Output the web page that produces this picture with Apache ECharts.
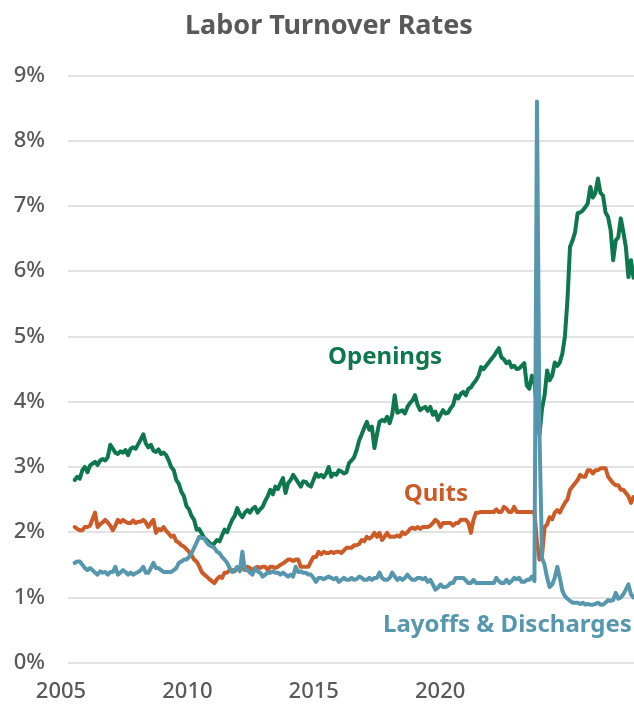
<!DOCTYPE html>
<html>
<head>
<meta charset="utf-8">
<script src="https://cdn.jsdelivr.net/npm/echarts@6/dist/echarts.min.js"></script>
<style>
html,body{margin:0;padding:0;background:#fff;}
#chart{width:634px;height:713px;}
</style>
</head>
<body>
<div id="chart"></div>
<script>
// Monthly rates (%), Jan 2005 .. May 2023
const startYear = 2005;
const openings = [
  2.80,2.85,2.82,2.95,3.00,2.92,3.02,3.05,3.08,3.03,3.10,3.12,
  3.10,3.15,3.34,3.28,3.22,3.20,3.24,3.22,3.26,3.18,3.28,3.30,
  3.28,3.35,3.42,3.50,3.36,3.30,3.34,3.25,3.23,3.27,3.20,3.22,
  3.18,3.10,3.00,2.95,2.80,2.74,2.62,2.55,2.40,2.35,2.25,2.19,
  2.04,2.05,1.98,1.91,1.88,1.84,1.80,1.83,1.88,1.86,1.95,2.04,
  2.00,2.10,2.19,2.25,2.37,2.28,2.23,2.30,2.34,2.30,2.36,2.39,
  2.30,2.35,2.39,2.48,2.55,2.65,2.58,2.70,2.66,2.75,2.83,2.60,
  2.75,2.80,2.88,2.82,2.76,2.70,2.78,2.77,2.72,2.70,2.80,2.90,
  2.85,2.88,2.84,2.90,3.00,2.85,2.90,2.88,2.95,2.93,2.90,2.92,
  3.06,3.10,3.15,3.26,3.41,3.50,3.60,3.69,3.57,3.62,3.29,3.50,
  3.69,3.72,3.70,3.77,3.67,3.80,4.10,3.83,3.85,3.87,3.82,3.92,
  3.98,4.02,4.10,3.95,3.87,3.90,3.92,3.86,3.92,3.80,3.85,3.72,
  3.80,3.87,3.82,3.83,3.90,3.95,4.10,4.05,4.12,4.15,4.10,4.20,
  4.22,4.28,4.33,4.40,4.53,4.50,4.55,4.60,4.65,4.70,4.76,4.82,
  4.68,4.65,4.59,4.62,4.53,4.55,4.50,4.51,4.55,4.59,4.25,4.20,
  4.40,4.30,3.90,3.50,3.90,4.10,4.48,4.33,4.40,4.60,4.55,4.60,
  4.74,5.00,5.56,6.37,6.47,6.60,6.89,6.90,6.93,6.98,7.04,7.29,
  7.13,7.20,7.42,7.20,7.16,6.90,6.83,6.63,6.17,6.47,6.52,6.81,
  6.60,6.37,5.91,6.17,5.90
];
const quits = [
  2.08,2.05,2.03,2.03,2.08,2.08,2.10,2.20,2.30,2.08,2.12,2.15,
  2.19,2.15,2.10,2.03,2.10,2.19,2.15,2.19,2.16,2.14,2.14,2.18,
  2.14,2.16,2.16,2.19,2.15,2.08,2.14,2.19,1.99,2.05,2.03,2.08,
  2.02,1.98,1.93,1.95,1.86,1.84,1.80,1.78,1.74,1.70,1.65,1.58,
  1.55,1.48,1.39,1.35,1.32,1.28,1.25,1.22,1.28,1.32,1.30,1.38,
  1.38,1.42,1.42,1.40,1.45,1.42,1.46,1.42,1.47,1.45,1.42,1.45,
  1.47,1.45,1.47,1.47,1.42,1.47,1.47,1.45,1.47,1.50,1.52,1.55,
  1.58,1.58,1.56,1.58,1.58,1.47,1.47,1.47,1.47,1.55,1.62,1.62,
  1.70,1.66,1.70,1.68,1.68,1.70,1.68,1.70,1.70,1.68,1.72,1.76,
  1.76,1.76,1.80,1.80,1.82,1.88,1.86,1.93,1.90,1.93,1.99,1.93,
  1.99,1.88,1.93,1.99,1.93,1.93,1.93,1.95,1.93,2.00,1.97,2.00,
  2.05,2.07,2.05,2.08,2.05,2.08,2.08,2.08,2.10,2.14,2.19,2.16,
  2.08,2.14,2.14,2.14,2.14,2.10,2.14,2.14,2.19,2.19,2.19,2.14,
  1.99,2.19,2.30,2.30,2.31,2.31,2.31,2.31,2.31,2.31,2.35,2.31,
  2.31,2.39,2.36,2.31,2.31,2.39,2.31,2.31,2.31,2.31,2.31,2.31,
  2.31,2.31,1.85,1.58,1.65,2.08,2.12,2.23,2.20,2.30,2.34,2.30,
  2.38,2.45,2.50,2.65,2.70,2.75,2.80,2.88,2.85,2.85,2.95,2.95,
  2.90,2.95,2.95,2.98,2.98,2.98,2.85,2.80,2.75,2.72,2.72,2.65,
  2.65,2.60,2.55,2.45,2.54
];
const layoffs = [
  1.53,1.55,1.55,1.50,1.45,1.42,1.45,1.42,1.38,1.35,1.40,1.38,
  1.39,1.35,1.39,1.39,1.47,1.35,1.38,1.42,1.39,1.35,1.38,1.35,
  1.37,1.39,1.42,1.47,1.38,1.38,1.45,1.53,1.45,1.45,1.42,1.39,
  1.39,1.39,1.39,1.42,1.45,1.53,1.55,1.58,1.58,1.62,1.68,1.76,
  1.84,1.93,1.91,1.91,1.84,1.80,1.78,1.76,1.70,1.68,1.62,1.58,
  1.53,1.45,1.39,1.42,1.47,1.40,1.70,1.42,1.42,1.38,1.35,1.45,
  1.40,1.38,1.32,1.35,1.38,1.38,1.40,1.38,1.38,1.35,1.38,1.35,
  1.32,1.35,1.32,1.47,1.39,1.40,1.38,1.38,1.35,1.35,1.30,1.24,
  1.30,1.30,1.28,1.30,1.32,1.30,1.28,1.30,1.24,1.27,1.30,1.27,
  1.27,1.30,1.27,1.28,1.32,1.30,1.27,1.27,1.30,1.27,1.30,1.30,
  1.38,1.30,1.27,1.27,1.30,1.38,1.32,1.27,1.30,1.27,1.30,1.35,
  1.30,1.27,1.27,1.30,1.30,1.28,1.30,1.24,1.27,1.20,1.12,1.15,
  1.20,1.16,1.16,1.18,1.22,1.22,1.30,1.30,1.30,1.30,1.26,1.22,
  1.22,1.27,1.22,1.22,1.22,1.22,1.22,1.22,1.22,1.22,1.30,1.25,
  1.22,1.22,1.27,1.22,1.25,1.30,1.28,1.30,1.24,1.24,1.27,1.27,
  1.32,1.25,8.60,3.50,1.60,1.50,1.30,1.16,1.20,1.30,1.47,1.30,
  1.10,1.02,0.98,0.95,0.92,0.92,0.92,0.90,0.92,0.89,0.90,0.89,
  0.89,0.90,0.92,0.89,0.89,0.92,0.96,0.95,0.96,1.07,0.98,1.00,
  1.05,1.12,1.20,1.05,1.00
];
const seriesNames = ['Openings', 'Quits', 'Layoffs & Discharges'];
const seriesColors = ['#0E774D', '#CB5B27', '#5797AD'];
const yTickValues = [0,1,2,3,4,5,6,7,8,9];
const xTickValues = [2005, 2010, 2015, 2020];
// label anchor positions in data units: [month index, rate]
const labelAnchors = [[122.2, 4.68], [142.2, 2.59], [121.4, 0.57]];

const FONT = 'Noto Sans';
const grey = '#595959';
const toPairs = arr => arr.map((v, i) => [i, v]);
const allData = [openings, quits, layoffs];

const chart = echarts.init(document.getElementById('chart'), null, {renderer: 'canvas'});
chart.setOption({
  animation: false,
  backgroundColor: '#ffffff',
  title: {
    text: 'Labor Turnover Rates',
    left: 180, top: 8,
    textStyle: {fontFamily: FONT, fontSize: 27, fontWeight: 'bold', color: grey}
  },
  grid: [
    {left: 68, right: 0, top: 75.5, bottom: 50.3},
    {left: 0, right: 0, top: 75.5, bottom: 50.3}
  ],
  xAxis: [
    {
      type: 'value', gridIndex: 0, min: -2.64, max: 220.2,
      axisLine: {show: false}, axisTick: {show: false},
      axisLabel: {show: false}, splitLine: {show: false}
    },
    {
      type: 'value', gridIndex: 1, min: 2002.586, max: 2027.67,
      axisLine: {show: false}, axisTick: {show: false}, splitLine: {show: false},
      axisLabel: {
        customValues: xTickValues,
        formatter: v => String(v),
        fontFamily: FONT, fontSize: 22, fontWeight: 500, color: grey, margin: 18
      }
    }
  ],
  yAxis: [
    {
      type: 'value', gridIndex: 0, min: 0, max: 9, interval: 1,
      axisLine: {show: false}, axisTick: {show: false},
      axisLabel: {
        formatter: v => v + '%',
        fontFamily: FONT, fontSize: 22, fontWeight: 500, color: grey, margin: 23
      },
      splitLine: {lineStyle: {color: '#D9D9D9', width: 1.5}}
    },
    {
      type: 'value', gridIndex: 1, min: 0, max: 1, show: false
    }
  ],
  series: allData.map((arr, k) => ({
    name: seriesNames[k],
    type: 'line',
    xAxisIndex: 0, yAxisIndex: 0,
    data: toPairs(arr),
    showSymbol: false,
    symbol: 'none',
    smooth: false,
    lineStyle: {color: seriesColors[k], width: 4, join: 'round', cap: 'round'},
    itemStyle: {color: seriesColors[k]},
    z: 2 + k,
    markPoint: {
      symbol: 'circle', symbolSize: 0,
      silent: true,
      data: [{
        coord: labelAnchors[k],
        label: {
          show: true,
          formatter: seriesNames[k],
          position: k === 2 ? 'right' : 'inside',
          distance: 0,
          fontFamily: FONT, fontSize: 24, fontWeight: 'bold',
          color: seriesColors[k]
        }
      }]
    }
  }))
});
</script>
</body>
</html>
